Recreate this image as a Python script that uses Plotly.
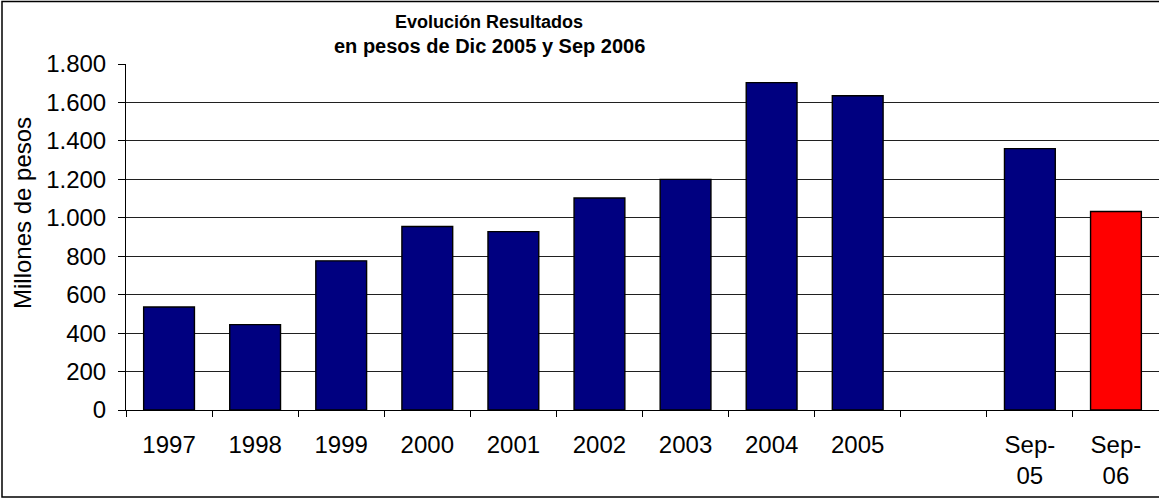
import plotly.graph_objects as go

categories = ["1997", "1998", "1999", "2000", "2001", "2002", "2003", "2004", "2005", " ", "Sep-<br>05", "Sep-<br>06"]
values = [536, 444, 776, 955, 928, 1103, 1200, 1703, 1635, None, 1360, 1033]
bar_colors = ["#000080"] * 11 + ["#FF0000"]
y_ticks = [0, 200, 400, 600, 800, 1000, 1200, 1400, 1600, 1800]

W, H = 1159, 499
L, R, T, B = 126, 0, 64, 89
pw, ph = W - L - R, H - T - B

def px(x):
    return (x - L) / pw

def py(y):
    return (H - B - y) / ph

font = "Liberation Sans, Arial, sans-serif"

fig = go.Figure(go.Bar(
    x=categories, y=values,
    marker=dict(color=bar_colors, line=dict(color="black", width=1.4)),
    showlegend=False,
))

fig.update_layout(
    width=W, height=H,
    margin=dict(l=L, r=R, t=T, b=B, pad=0),
    paper_bgcolor="white", plot_bgcolor="white",
    separators=",.",
    bargap=0.41,
    font=dict(family=font, color="black"),
    xaxis=dict(
        type="category", tickson="boundaries", ticks="outside", ticklen=6,
        tickcolor="black", showline=True, linecolor="black", linewidth=1,
        showgrid=False, tickfont=dict(size=24, family=font), tickangle=0,
        ticklabelstandoff=13,
    ),
    yaxis=dict(
        range=[0, 1800], tickvals=y_ticks, tickformat=",d", ticks="outside",
        ticklen=7, tickcolor="black", showline=True, linecolor="black", linewidth=1,
        showgrid=True, gridcolor="#202020", gridwidth=1, zeroline=False,
        tickfont=dict(size=24, family=font), ticklabelstandoff=7,
    ),
    shapes=[dict(type="rect", xref="paper", yref="paper",
                 x0=px(2), x1=px(1162), y0=py(1.5), y1=py(497),
                 line=dict(color="black", width=1.5), layer="below")],
    annotations=[
        dict(text="<b>Evolución Resultados</b>", xref="paper", yref="paper",
             x=px(489), y=py(22), xanchor="center", yanchor="middle",
             showarrow=False, font=dict(size=18, family=font)),
        dict(text="<b>en pesos de Dic 2005 y Sep 2006</b>", xref="paper", yref="paper",
             x=px(489), y=py(46), xanchor="center", yanchor="middle",
             showarrow=False, font=dict(size=20, family=font)),
        dict(text="Millones de pesos", xref="paper", yref="paper",
             x=px(22), y=py(213), xanchor="center", yanchor="middle", textangle=-90,
             showarrow=False, font=dict(size=24, family=font)),
    ],
)

fig.write_html("out.html", config={"displayModeBar": False},
               post_script="document.body.style.margin='0';document.body.style.overflow='hidden';")
